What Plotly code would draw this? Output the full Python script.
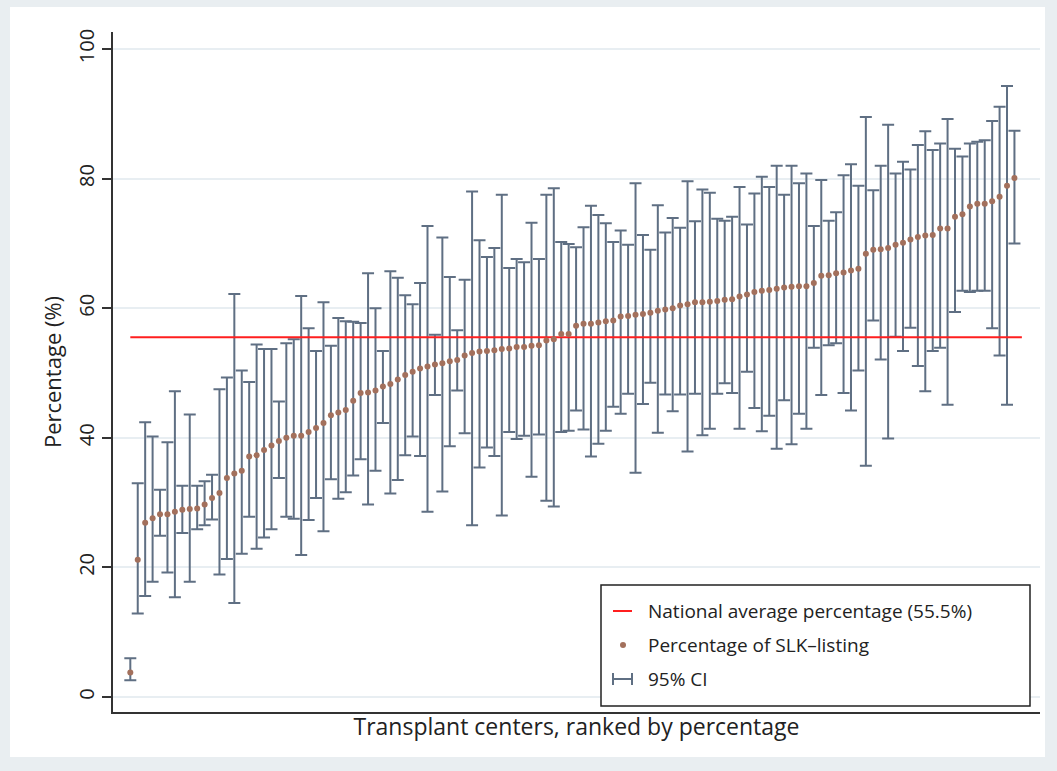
import numpy as np
import plotly.graph_objects as go

# Percentage of SLK-listing per transplant center, ranked ascending
pct = [3.8, 21.2, 26.9, 27.6, 28.2, 28.2, 28.6, 28.9, 29.0, 29.1,
       29.7, 30.7, 31.5, 33.8, 34.5, 34.9, 37.1, 37.3, 38.1, 38.8,
       39.5, 40.0, 40.3, 40.3, 40.9, 41.5, 42.3, 43.5, 43.9, 44.3,
       45.7, 46.9, 47.0, 47.3, 47.9, 48.3, 49.0, 49.7, 50.2, 50.7,
       51.0, 51.3, 51.5, 51.8, 52.0, 52.7, 53.1, 53.3, 53.4, 53.5,
       53.7, 53.8, 54.0, 54.0, 54.2, 54.3, 55.0, 55.2, 56.0, 56.0,
       57.3, 57.6, 57.6, 57.8, 58.0, 58.1, 58.7, 58.8, 59.0, 59.1,
       59.3, 59.6, 59.8, 60.0, 60.4, 60.6, 60.9, 60.9, 61.0, 61.1,
       61.3, 61.4, 61.8, 62.1, 62.5, 62.7, 62.8, 63.0, 63.2, 63.3,
       63.4, 63.4, 63.9, 65.0, 65.1, 65.4, 65.5, 65.8, 66.1, 68.4,
       69.0, 69.1, 69.3, 69.8, 70.1, 70.6, 71.0, 71.2, 71.3, 72.3,
       72.3, 74.1, 74.5, 75.7, 76.1, 76.1, 76.5, 77.2, 78.9, 80.1]

# Lower bound of the 95% confidence interval
ci_low = [2.6, 12.9, 15.6, 17.8, 24.9, 19.2, 15.4, 25.3, 17.8, 25.9,
          26.5, 27.4, 18.9, 21.3, 14.5, 22.1, 27.8, 22.9, 24.6, 25.9,
          33.8, 27.8, 27.5, 21.9, 27.3, 30.7, 25.6, 33.6, 30.6, 31.6,
          34.2, 36.7, 29.7, 34.9, 42.3, 31.4, 33.5, 37.3, 40.2, 37.2,
          28.6, 46.6, 31.7, 38.7, 47.3, 40.7, 26.5, 35.4, 38.5, 37.2,
          28.0, 40.9, 39.8, 40.3, 34.0, 40.5, 30.3, 29.4, 40.9, 41.1,
          44.2, 41.3, 37.1, 39.1, 41.1, 44.8, 43.7, 46.8, 34.6, 45.2,
          48.5, 40.8, 46.7, 44.1, 46.7, 37.9, 46.8, 40.4, 41.4, 46.8,
          48.4, 46.9, 41.4, 50.2, 44.6, 41.0, 43.4, 38.3, 45.8, 39.0,
          43.7, 41.4, 53.9, 46.6, 54.3, 54.6, 46.9, 44.2, 50.4, 35.7,
          58.1, 52.1, 39.9, 55.6, 53.4, 57.0, 51.1, 47.2, 53.4, 53.9,
          45.1, 59.4, 62.7, 62.5, 62.7, 62.7, 56.9, 52.7, 45.1, 70.0]

# Upper bound of the 95% confidence interval
ci_high = [6.0, 33.0, 42.4, 40.2, 32.0, 39.3, 47.2, 32.6, 43.6, 32.6,
           33.3, 34.3, 47.5, 49.3, 62.2, 50.4, 48.6, 54.4, 53.7, 53.7,
           45.6, 54.6, 55.2, 61.9, 56.9, 53.4, 60.9, 54.2, 58.5, 58.0,
           57.9, 57.7, 65.4, 60.0, 53.4, 65.7, 64.7, 62.0, 60.6, 63.9,
           72.7, 55.9, 70.9, 64.8, 56.6, 64.4, 78.0, 70.5, 67.9, 69.3,
           77.5, 66.2, 67.6, 67.1, 73.2, 67.6, 77.5, 78.5, 70.2, 69.9,
           69.4, 72.5, 75.8, 74.4, 73.1, 70.2, 72.0, 69.8, 79.3, 71.3,
           69.0, 75.9, 71.7, 73.9, 72.4, 79.6, 73.4, 78.3, 77.8, 73.8,
           73.5, 74.1, 78.7, 72.9, 77.7, 80.3, 78.7, 82.0, 77.5, 82.0,
           79.3, 80.8, 72.7, 79.8, 73.5, 74.8, 80.5, 82.2, 78.9, 89.5,
           78.2, 82.0, 88.3, 80.8, 82.6, 81.4, 85.2, 87.3, 84.4, 85.4,
           89.2, 84.6, 83.4, 85.4, 85.7, 85.9, 88.9, 91.1, 94.3, 87.4]

national_avg = 55.5
y_ticks = [0, 20, 40, 60, 80, 100]

legend_labels = ["National average percentage (55.5%)",
                 "Percentage of SLK\u2013listing",
                 "95% CI"]

pct_a = np.array(pct)
lo_a = np.array(ci_low)
hi_a = np.array(ci_high)
rank = np.arange(1, len(pct) + 1)

RED = "#ff1f1f"
DOT = "#a3705c"
BAR = "#5f6f83"
TXT = "#222222"
FONT = "Open Sans"

fig = go.Figure()

# confidence intervals
fig.add_trace(go.Scatter(
    x=rank, y=pct_a, mode="markers",
    marker=dict(size=1, color="rgba(0,0,0,0)"),
    error_y=dict(type="data", symmetric=False,
                 array=hi_a - pct_a, arrayminus=pct_a - lo_a,
                 color=BAR, thickness=2, width=6),
    showlegend=False, hoverinfo="skip"))

# national average reference line
fig.add_trace(go.Scatter(
    x=[rank[0], rank[-1] + 1], y=[national_avg, national_avg],
    mode="lines", line=dict(color=RED, width=2),
    showlegend=False, hoverinfo="skip"))

# center percentages
fig.add_trace(go.Scatter(
    x=rank, y=pct_a, mode="markers",
    marker=dict(size=6, color=DOT, line=dict(width=0)),
    showlegend=False))

# plot geometry in pixels (for paper-coordinate conversion)
W, H = 1057, 771
L, R, T, B = 113, 17, 32, 59
pw, ph = W - L - R, H - T - B


def px(x):
    return (x - L) / pw


def py(y):
    return (H - B - y) / ph


shapes = []
# white inner panel on the tinted page
shapes.append(dict(type="rect", xref="paper", yref="paper",
                   x0=px(10), x1=px(1045), y0=py(757), y1=py(7),
                   fillcolor="white", line=dict(width=0), layer="below"))

# legend box
shapes.append(dict(type="rect", xref="paper", yref="paper",
                   x0=px(601), x1=px(1030), y0=py(706), y1=py(585),
                   fillcolor="white", line=dict(color="#222222", width=1.5),
                   layer="above"))
row_y = [611, 645, 679]
sx0, sx1 = 613, 632
# red line key
shapes.append(dict(type="line", xref="paper", yref="paper",
                   x0=px(sx0), x1=px(sx1), y0=py(row_y[0]), y1=py(row_y[0]),
                   line=dict(color=RED, width=2), layer="above"))
# dot key
shapes.append(dict(type="circle", xref="paper", yref="paper",
                   x0=px(620), x1=px(626), y0=py(row_y[1] + 3), y1=py(row_y[1] - 3),
                   fillcolor=DOT, line=dict(width=0), layer="above"))
# CI key
shapes.append(dict(type="line", xref="paper", yref="paper",
                   x0=px(sx0), x1=px(sx1), y0=py(row_y[2]), y1=py(row_y[2]),
                   line=dict(color=BAR, width=2), layer="above"))
for cx in (sx0, sx1):
    shapes.append(dict(type="line", xref="paper", yref="paper",
                       x0=px(cx), x1=px(cx), y0=py(row_y[2] - 6), y1=py(row_y[2] + 6),
                       line=dict(color=BAR, width=2), layer="above"))

annotations = []
for lab, yy in zip(legend_labels, row_y):
    annotations.append(dict(xref="paper", yref="paper", x=px(646), y=py(yy),
                            text=lab, showarrow=False, xanchor="left",
                            yanchor="middle",
                            font=dict(family=FONT, size=19, color=TXT)))

fig.update_layout(
    width=W, height=H,
    margin=dict(l=L, r=R, t=T, b=B),
    paper_bgcolor="#e9eef1",
    plot_bgcolor="white",
    font=dict(family=FONT, color=TXT),
    shapes=shapes,
    annotations=annotations,
    showlegend=False,
)

fig.update_xaxes(
    range=[-1.33, 123.44],
    showgrid=False, zeroline=False,
    showticklabels=False, ticks="",
    showline=True, linecolor="#333333", linewidth=1.5,
    title=dict(text="Transplant centers, ranked by percentage",
               font=dict(family=FONT, size=23, color=TXT), standoff=6),
)

fig.update_yaxes(
    range=[-2.31, 102.62],
    tickvals=y_ticks, ticktext=[str(v) for v in y_ticks],
    tickangle=-90,
    tickfont=dict(family=FONT, size=20, color=TXT),
    ticks="outside", ticklen=9, tickwidth=1.5, tickcolor="#333333",
    showgrid=True, gridcolor="#e8eef2", gridwidth=2,
    zeroline=False,
    showline=True, linecolor="#333333", linewidth=1.5,
    title=dict(text="Percentage (%)",
               font=dict(family=FONT, size=22, color=TXT), standoff=6),
)

fig.write_html("out.html")
